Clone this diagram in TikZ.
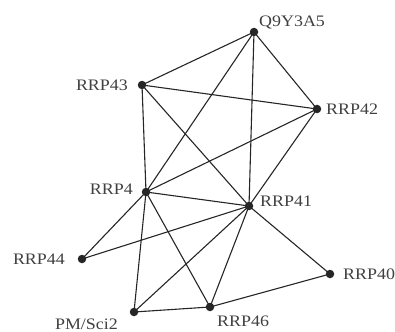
\documentclass[tikz,border=0pt]{standalone}
\usepackage{fontspec}
\setmainfont{Liberation Serif}
\newfontfamily\lblfont[FakeStretch=1.12]{Liberation Serif}
\begin{document}
\begin{tikzpicture}[x=1pt,y=-1pt,
  vtx/.style={circle,fill=black!85,inner sep=0pt,minimum size=8.5pt},
  lbl/.style={font=\lblfont\fontsize{16}{16}\selectfont,text=black!75,inner sep=0pt},
  edge/.style={line width=1.1pt,black!85}]
\useasboundingbox (0,0) rectangle (395,331);
% vertices
\node[vtx] (q9)  at (254,32)  {};
\node[vtx] (r43) at (142,85)  {};
\node[vtx] (r42) at (317,109) {};
\node[vtx] (r4)  at (146,192) {};
\node[vtx] (r41) at (249,206) {};
\node[vtx] (r44) at (82,259)  {};
\node[vtx] (r40) at (330,274) {};
\node[vtx] (pm)  at (134,312) {};
\node[vtx] (r46) at (210,307) {};
% labels
\node[lbl,anchor=west] (lq9)  at (259,23)  {Q9Y3A5};
\node[lbl,anchor=east] (l43)  at (128,85)  {RRP43};
\node[lbl,anchor=west] (l42)  at (326,109) {RRP42};
\node[lbl,anchor=east] (l4)   at (133,189) {RRP4};
\node[lbl,anchor=west] (l41)  at (260,201) {RRP41};
\node[lbl,anchor=east] (l44)  at (65,259)  {RRP44};
\node[lbl,anchor=west] (l40)  at (343,274) {RRP40};
\node[lbl,anchor=east] (lpm)  at (118,324) {PM/Sci2};
\node[lbl,anchor=west] (l46)  at (217,321) {RRP46};
% edges
\foreach \a/\b in {q9/r43,q9/r42,q9/r41,q9/r4,r43/r42,r43/r4,r43/r41,
  r42/r4,r42/r41,r4/r41,r4/r44,r4/pm,r4/r46,r41/r44,r41/pm,r41/r46,
  r41/r40,r40/r46,pm/r46}
  \draw[edge] (\a.center) -- (\b.center);
\end{tikzpicture}
\end{document}
